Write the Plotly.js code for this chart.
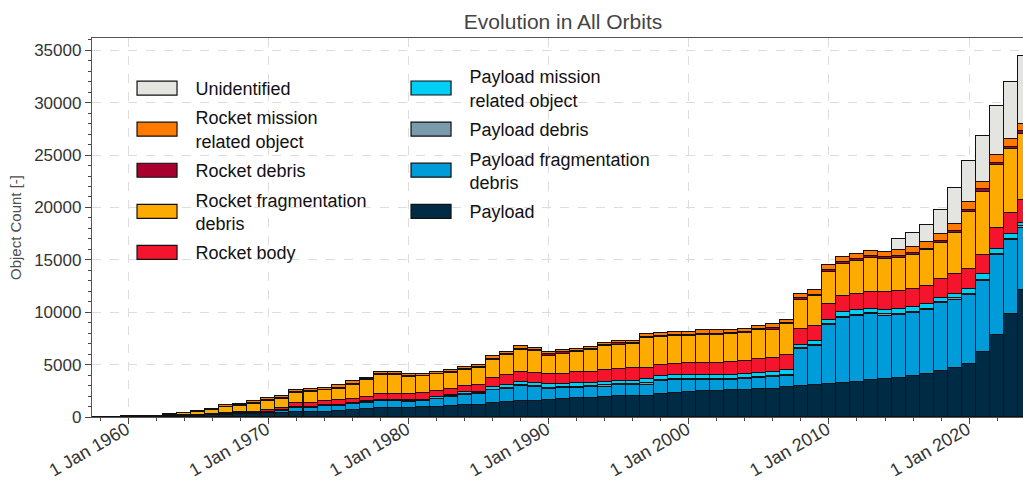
<!DOCTYPE html>
<html>
<head>
<meta charset="utf-8">
<script src="https://cdn.plot.ly/plotly-3.0.1.min.js"></script>
<style>
  html, body { margin: 0; padding: 0; background: #ffffff; }
  #chart { width: 1023px; height: 481px; }
</style>
</head>
<body>
<div id="chart"></div>
<script>
// ---- Data (object counts per year, all orbits) ----
const years = [1957,1958,1959,
  1960,1961,1962,1963,1964,1965,1966,1967,1968,1969,
  1970,1971,1972,1973,1974,1975,1976,1977,1978,1979,
  1980,1981,1982,1983,1984,1985,1986,1987,1988,1989,
  1990,1991,1992,1993,1994,1995,1996,1997,1998,1999,
  2000,2001,2002,2003,2004,2005,2006,2007,2008,2009,
  2010,2011,2012,2013,2014,2015,2016,2017,2018,2019,
  2020,2021,2022,2023,2024];

const payload = [2,5,10,
  20,30,50,70,100,130,170,210,250,290,
  340,400,460,470,520,620,690,780,880,900,
  900,940,1000,1070,1130,1160,1320,1410,1480,1510,
  1580,1700,1770,1830,1890,1960,1990,2020,2210,2270,
  2400,2460,2500,2530,2600,2660,2720,2910,2980,3100,
  3170,3270,3360,3490,3610,3740,3870,4060,4370,4700,
  5080,6250,7850,9790,12150];

const payloadFragDebris = [0,0,0,
  0,0,0,5,10,20,30,40,60,80,
  110,200,410,410,490,450,570,560,600,600,
  560,540,680,830,990,1040,1210,1310,1500,1340,
  1140,1090,1020,1020,1020,1050,1020,1080,1210,1220,
  1090,1030,1000,1020,1010,1020,1080,1020,3500,3630,
  5600,6200,6300,6300,6050,5980,6040,6110,6500,6490,
  6550,6720,7600,7070,5920];

const payloadDebris = [0,0,0,
  0,0,0,0,0,0,5,5,10,10,
  15,20,40,40,40,40,40,50,50,50,
  50,60,60,60,70,70,80,80,80,90,
  90,90,90,90,100,100,100,100,100,100,
  100,100,100,100,100,110,110,110,110,110,
  120,120,120,120,130,130,130,130,130,130,
  140,150,150,150,150];

const payloadMissionRelated = [0,0,0,
  0,0,0,0,0,5,10,15,20,20,
  25,40,60,60,60,80,80,100,120,120,
  120,130,130,130,150,150,250,280,280,300,
  300,310,320,320,330,350,350,380,380,380,
  430,430,400,400,420,420,420,440,330,400,
  390,390,390,390,450,450,450,440,380,380,
  430,490,430,490,290];

const rocketBody = [1,3,5,
  10,15,25,40,55,65,80,90,100,120,
  150,240,350,370,400,390,360,400,500,540,
  520,600,590,570,600,680,880,950,910,940,
  950,930,1050,1050,1100,1110,1170,1120,1110,1110,
  1180,1180,1200,1220,1200,1310,1260,1420,1470,1400,
  1460,1590,1600,1660,1650,1710,1710,1790,1820,1910,
  1890,1880,2040,1960,2230];

const rocketFragDebris = [0,0,0,
  10,20,20,90,170,220,360,570,620,710,
  860,800,950,1050,1020,1140,1360,1600,1840,1780,
  1690,1600,1600,1560,1560,1600,1720,1870,2170,2100,
  1810,1940,1980,2040,2290,2350,2360,2800,2610,2610,
  2490,2610,2610,2610,2670,2740,2740,2930,2800,2870,
  3090,3060,3110,3240,3180,3190,3250,3370,3400,3980,
  5510,6020,5950,6120,6310];

const rocketDebris = [0,0,0,
  0,0,5,10,15,25,35,50,70,80,
  80,80,80,80,80,90,90,90,90,90,
  90,90,90,90,90,100,100,100,100,110,
  100,100,100,110,110,110,100,120,120,120,
  130,130,130,130,130,130,150,150,150,150,
  160,160,160,160,170,170,170,170,200,200,
  200,220,220,230,230];

const rocketMissionRelated = [0,2,5,
  10,15,20,35,50,65,90,120,140,170,
  190,180,180,180,180,200,200,190,170,170,
  190,160,160,190,170,210,220,230,210,220,
  220,190,180,210,210,210,210,260,260,260,
  320,320,320,250,290,250,350,300,430,490,
  480,470,480,470,500,600,600,590,700,660,
  680,690,730,760,650];

const unidentified = [0,0,0,
  0,0,0,0,0,0,0,0,0,0,
  0,0,0,0,0,0,0,0,0,0,
  0,0,0,0,0,0,0,0,0,0,
  0,0,0,0,0,0,0,0,0,0,
  0,0,0,0,0,0,0,0,0,0,
  0,0,0,0,0,1010,1330,1630,2220,3400,
  3920,4430,4680,5380,6500];

// ---- Series definitions (stack order bottom -> top) ----
const seriesNames = [
  'Payload',
  'Payload fragmentation<br>debris',
  'Payload debris',
  'Payload mission<br>related object',
  'Rocket body',
  'Rocket fragmentation<br>debris',
  'Rocket debris',
  'Rocket mission<br>related object',
  'Unidentified'
];
const seriesValues = [payload, payloadFragDebris, payloadDebris, payloadMissionRelated,
  rocketBody, rocketFragDebris, rocketDebris, rocketMissionRelated, unidentified];
const seriesColors = ['#002b45', '#009bd9', '#7a9bab', '#00cff5',
  '#f5142e', '#fdab00', '#a8002e', '#ff7b00', '#e4e5e0'];
// legend column and order within column
const legendIds = ['legend2', 'legend2', 'legend2', 'legend2',
  'legend', 'legend', 'legend', 'legend', 'legend'];
const legendRanks = [4, 3, 2, 1, 5, 4, 3, 2, 1];

const xDates = years.map(y => y + '-01-01');

const traces = seriesNames.map((name, i) => ({
  type: 'bar',
  name: name,
  x: xDates,
  y: seriesValues[i],
  legend: legendIds[i],
  legendgroup: 'g' + i,
  legendrank: legendRanks[i],
  marker: { color: seriesColors[i], line: { color: '#111111', width: 1.2 } },
  hovertemplate: '%{x|%Y}: %{y}<extra>' + name.replace('<br>', ' ') + '</extra>'
}));

const FONT = '"Liberation Sans", Arial, Helvetica, sans-serif';

const legendCommon = {
  orientation: 'v',
  xanchor: 'left',
  yanchor: 'top',
  bgcolor: 'rgba(0,0,0,0)',
  borderwidth: 0,
  font: { family: FONT, size: 18, color: '#111111' },
  itemwidth: 67,
  valign: 'middle',
  traceorder: 'grouped',
  tracegroupgap: 3
};

const layout = {
  width: 1023,
  height: 481,
  margin: { l: 92, r: 0, t: 38, b: 64, pad: 0, autoexpand: false },
  paper_bgcolor: '#ffffff',
  plot_bgcolor: '#ffffff',
  font: { family: FONT, color: '#333333' },
  barmode: 'stack',
  bargap: 0,
  title: {
    text: 'Evolution in All Orbits',
    x: 0.506, xref: 'paper', xanchor: 'center',
    y: 0.955, yref: 'container', yanchor: 'middle',
    font: { family: FONT, size: 21, color: '#444444' }
  },
  xaxis: {
    type: 'date',
    range: ['1957-05-29', '2023-11-07'],
    tick0: '1960-01-01',
    dtick: 'M120',
    tickformat: '%-d %b %Y',
    tickangle: -30,
    ticklabelstandoff: -12,
    ticklabelshift: -2,
    tickfont: { family: FONT, size: 18, color: '#333333' },
    ticks: 'outside', ticklen: 6, tickwidth: 1.2, tickcolor: '#444444',
    showline: true, linecolor: '#555555', linewidth: 1.3, mirror: true,
    showgrid: true, gridcolor: '#dddddd', griddash: 'dash', gridwidth: 1,
    zeroline: false,
    minor: { tick0: '1958-01-01', dtick: 'M24', ticks: 'outside', ticklen: 3, tickwidth: 1, tickcolor: '#444444', showgrid: false }
  },
  yaxis: {
    range: [0, 36175],
    tick0: 0,
    dtick: 5000,
    tickformat: 'd',
    tickfont: { family: FONT, size: 17, color: '#333333' },
    ticks: 'outside', ticklen: 6, tickwidth: 1.2, tickcolor: '#444444',
    showline: true, linecolor: '#555555', linewidth: 1.3, mirror: false,
    showgrid: true, gridcolor: '#dddddd', griddash: 'dash', gridwidth: 1,
    zeroline: false,
    minor: { dtick: 1000, ticks: 'outside', ticklen: 3, tickwidth: 1, tickcolor: '#444444', showgrid: false },
    title: { text: 'Object Count [-]', font: { family: FONT, size: 15, color: '#4d4d4d' }, standoff: 8 }
  },
  legend: Object.assign({}, legendCommon, { x: 0.0285, y: 0.916 }),
  legend2: Object.assign({}, legendCommon, { x: 0.3228, y: 0.947 }),
  showlegend: true
};

Plotly.newPlot('chart', traces, layout, { displayModeBar: false }).then(() => {
  // widen legend swatches (both legend columns) to wide rectangles
  document.querySelectorAll('#chart .legendpoints path').forEach(p => {
    p.setAttribute('d', 'M20,7H-20V-7H20Z');
  });
});
</script>
</body>
</html>
